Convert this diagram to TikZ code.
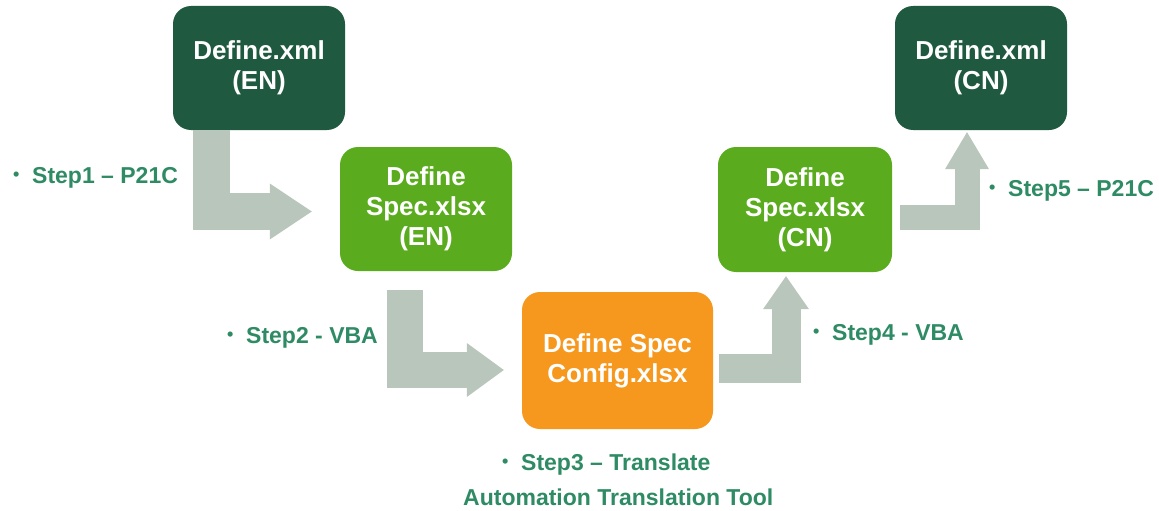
\documentclass[tikz,border=0pt]{standalone}
\usepackage{fontspec}
\setmainfont{Liberation Sans}
\usetikzlibrary{arrows.meta,calc}
\definecolor{dkgreen}{HTML}{1F5A40}
\definecolor{ltgreen}{HTML}{5AAC1E}
\definecolor{orangebox}{HTML}{F7981E}
\definecolor{arrowgrey}{HTML}{B8C6BC}
\definecolor{stepgreen}{HTML}{2E8B64}
\newcommand\stepbul{\makebox[19pt][l]{\raisebox{2.5pt}{\fontsize{18}{18}\selectfont •}}}
\tikzset{
  box/.style={rounded corners=18pt, inner sep=0pt, align=center, text=white,
    font=\fontsize{26}{30}\selectfont\bfseries},
  steplabel/.style={anchor=base west, inner sep=0pt, text=stepgreen,
    font=\fontsize{23}{27}\selectfont\bfseries},
  blockarrow/.style={draw=arrowgrey, line join=miter, line cap=butt},
}
\begin{document}
\begin{tikzpicture}[x=1pt,y=-1pt]
\useasboundingbox (0,0) rectangle (1159,511);
\fill[white] (0,0) rectangle (1159,511);

\node[box, fill=dkgreen, minimum width=172pt, minimum height=124pt] (b1) at (259,68) {Define.xml\\(EN)};
\node[box, fill=ltgreen, minimum width=172pt, minimum height=124pt] (b2) at (426,209) {Define\\Spec.xlsx\\(EN)};
\node[box, fill=orangebox, minimum width=191pt, minimum height=137pt] (b3) at (617.5,360.5) {Define Spec\\Config.xlsx};
\node[box, fill=ltgreen, minimum width=174pt, minimum height=125pt] (b4) at (805,209.5) {Define\\Spec.xlsx\\(CN)};
\node[box, fill=dkgreen, minimum width=172pt, minimum height=124pt] (b5) at (981,68) {Define.xml\\(CN)};

% block arrows
\coordinate (a1s) at ($(b1.south west)+(38.5,0)$);
\coordinate (a1e) at ($(b2.west)+(-28,2.5)$);
\draw[blockarrow, line width=37pt, -{Triangle[length=42pt,width=56pt,line width=0pt]}] (a1s) |- (a1e);

\coordinate (a2s) at ($(b2.south west)+(65,19)$);
\coordinate (a2e) at ($(b3.west)+(-18,9.5)$);
\draw[blockarrow, line width=36pt, -{Triangle[length=37pt,width=54pt,line width=0pt]}] (a2s) |- (a2e);

\coordinate (a3s) at ($(b3.east)+(6,8)$);
\coordinate (a3e) at ($(b4.south)+(-19,4)$);
\draw[blockarrow, line width=29pt, -{Triangle[length=33pt,width=46pt,line width=0pt]}] (a3s) -| (a3e);

\coordinate (a4s) at ($(b4.east)+(8,7.5)$);
\coordinate (a4e) at ($(b5.south)+(-14,2)$);
\draw[blockarrow, line width=25pt, -{Triangle[length=37pt,width=44pt,line width=0pt]}] (a4s) -| (a4e);

% step labels
\node[steplabel] (s1) at (13,183) {\stepbul Step1 -- P21C};
\node[steplabel] (s2) at (227,343) {\stepbul Step2 - VBA};
\node[steplabel] (s3) at (502,470) {\stepbul Step3 -- Translate};
\node[steplabel] (s3b) at (463,505) {Automation Translation Tool};
\node[steplabel] (s4) at (813,340) {\stepbul Step4 - VBA};
\node[steplabel] (s5) at (989,196) {\stepbul Step5 -- P21C};
\end{tikzpicture}
\end{document}
